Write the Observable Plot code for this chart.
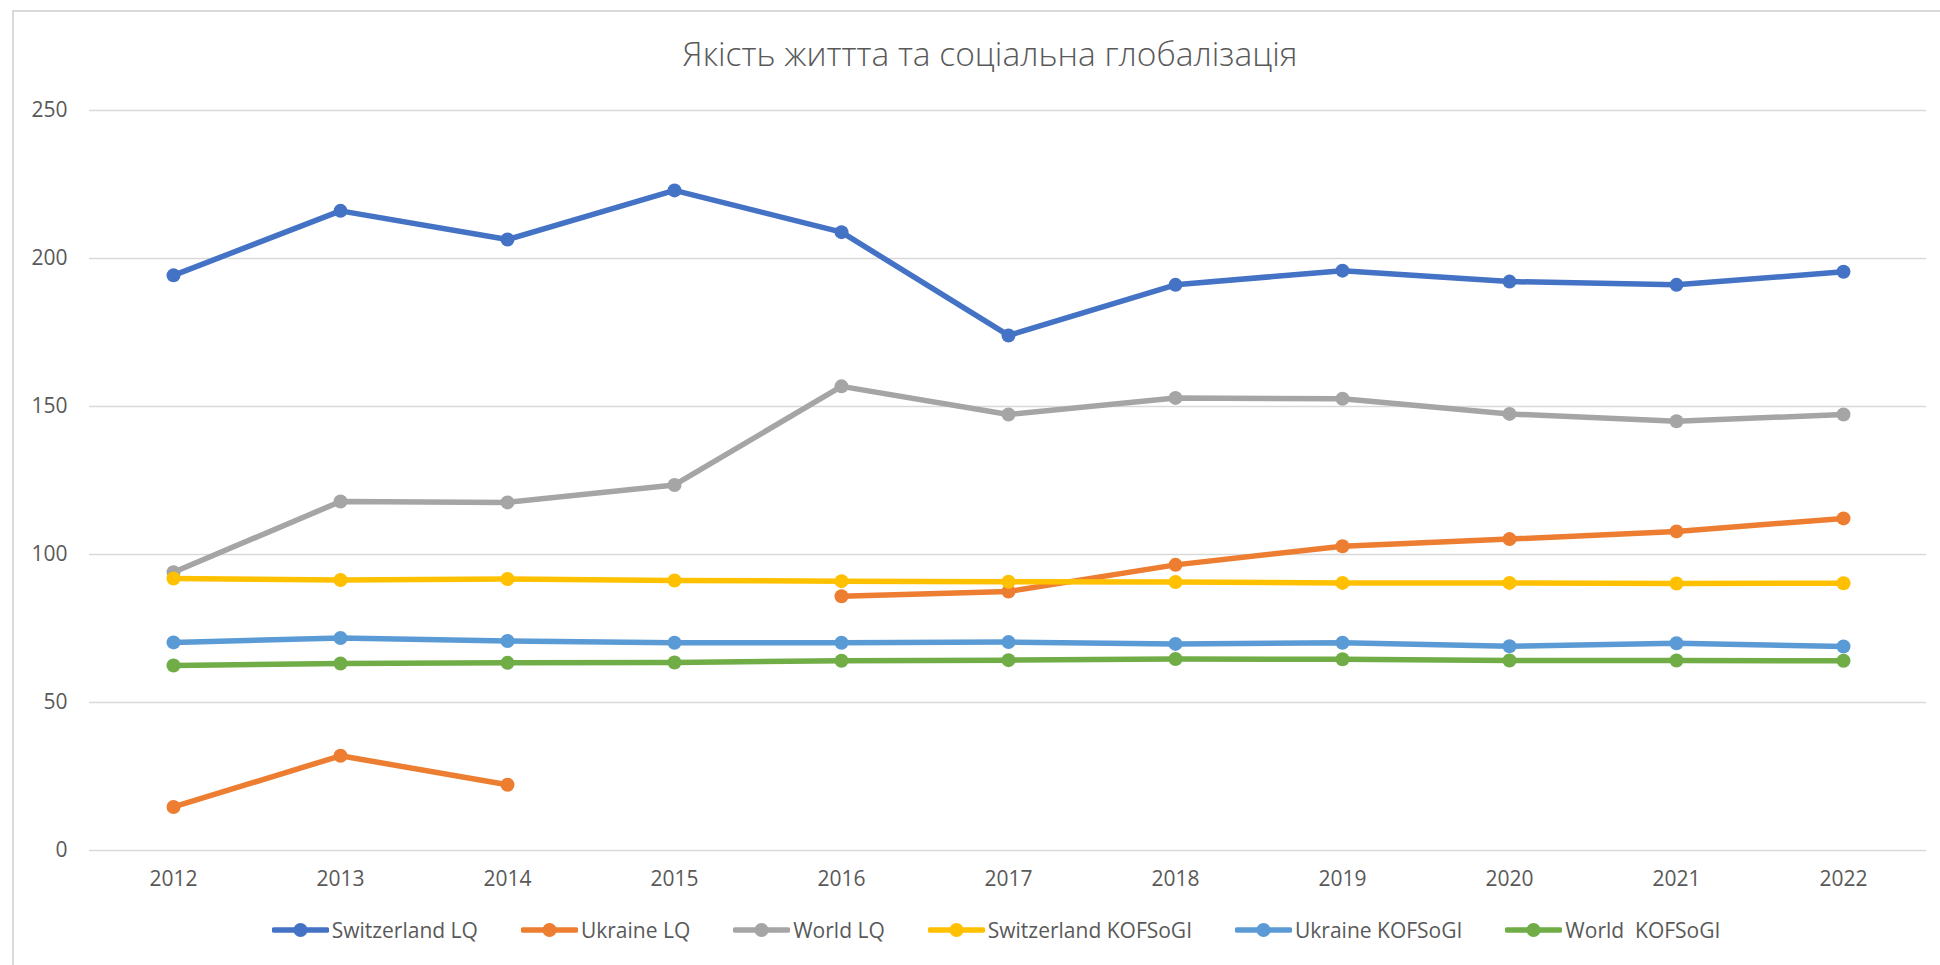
<!DOCTYPE html>
<html>
<head>
<meta charset="utf-8">
<script src="https://cdn.jsdelivr.net/npm/d3@7"></script>
<script src="https://cdn.jsdelivr.net/npm/@observablehq/plot@0.6"></script>
<style>
  html, body { margin: 0; padding: 0; background: #fff; }
  #wrap { position: relative; width: 1940px; height: 965px; overflow: hidden; background: #fff; font-family: "Open Sans", sans-serif; color: #595959; }
  #frame { position: absolute; left: 12px; top: 10px; width: 1940px; height: 960px; border-left: 2px solid #d9d9d9; border-top: 2px solid #d9d9d9; box-sizing: border-box; }
  #title { position: absolute; left: 0; width: 1980px; top: 30px; text-align: center; font-size: 33.5px; font-weight: 300; color: #595959; white-space: nowrap; }
  #chart { position: absolute; left: 0; top: 80px; }
  #legend { position: absolute; left: 0; width: 1992px; top: 916px; display: flex; justify-content: center; align-items: center; gap: 43px; font-size: 21px; color: #595959; }
  .item { display: flex; align-items: center; white-space: pre; }
  .item svg { margin-right: 3px; }
</style>
</head>
<body>
<div id="wrap">
  <div id="frame"></div>
  <div id="title">Якість життта та соціальна глобалізація</div>
  <div id="chart"></div>
  <div id="legend"></div>
</div>
<script>
const years = ["2012","2013","2014","2015","2016","2017","2018","2019","2020","2021","2022"];
const seriesNames = ["Switzerland LQ", "Ukraine LQ", "World LQ", "Switzerland KOFSoGI", "Ukraine KOFSoGI", "World  KOFSoGI"];
const seriesColors = ["#4472C4", "#ED7D31", "#A5A5A5", "#FFC000", "#5B9BD5", "#70AD47"];
const switzerlandLQ = [194.3, 216.1, 206.4, 223.0, 208.9, 174.0, 191.1, 195.9, 192.2, 191.1, 195.5];
const ukraineLQ = [14.7, 32.0, 22.2, null, 85.9, 87.5, 96.5, 102.8, 105.2, 107.8, 112.2];
const worldLQ = [94.0, 117.9, 117.6, 123.5, 156.8, 147.3, 152.9, 152.6, 147.5, 145.0, 147.3];
const switzerlandKOF = [91.9, 91.4, 91.7, 91.2, 91.0, 90.8, 90.7, 90.4, 90.4, 90.2, 90.3];
const ukraineKOF = [70.3, 71.8, 70.8, 70.2, 70.2, 70.4, 69.8, 70.2, 69.0, 70.0, 68.9];
const worldKOF = [62.5, 63.2, 63.4, 63.5, 64.1, 64.3, 64.7, 64.6, 64.2, 64.2, 64.1];
const yTicks = [0, 50, 100, 150, 200, 250];

const seriesValues = [switzerlandLQ, ukraineLQ, worldLQ, switzerlandKOF, ukraineKOF, worldKOF];

const marks = [
  Plot.ruleY(yTicks, {stroke: "#d9d9d9", strokeWidth: 1.5})
];
seriesValues.forEach((vals, i) => {
  const rows = years.map((y, j) => ({year: y, value: vals[j] == null ? NaN : vals[j]}));
  marks.push(Plot.lineY(rows, {x: "year", y: "value", stroke: seriesColors[i], strokeWidth: 5.5, strokeLinecap: "round", strokeLinejoin: "round"}));
  marks.push(Plot.dot(rows.filter(d => !isNaN(d.value)), {x: "year", y: "value", fill: seriesColors[i], r: 7, stroke: "none"}));
});

const chart = Plot.plot({
  width: 1940,
  height: 830,
  marginTop: 30,
  marginBottom: 60,
  marginLeft: 89,
  marginRight: 14,
  style: {fontFamily: "Open Sans, sans-serif", fontSize: "21px", color: "#595959", background: "transparent", overflow: "visible"},
  x: {type: "point", domain: years, padding: 0.5, label: null, tickSize: 0, tickPadding: 21},
  y: {domain: [0, 250], ticks: yTicks, label: null, tickSize: 0, tickPadding: 22},
  marks
});
document.getElementById("chart").appendChild(chart);

const legend = document.getElementById("legend");
seriesNames.forEach((name, i) => {
  const item = document.createElement("div");
  item.className = "item";
  const c = seriesColors[i];
  item.innerHTML = `<svg width="57" height="16"><line x1="2" y1="8" x2="55" y2="8" stroke="${c}" stroke-width="5.5" stroke-linecap="round"/><circle cx="28.5" cy="8" r="7" fill="${c}"/></svg><span>${name}</span>`;
  legend.appendChild(item);
});
</script>
</body>
</html>
